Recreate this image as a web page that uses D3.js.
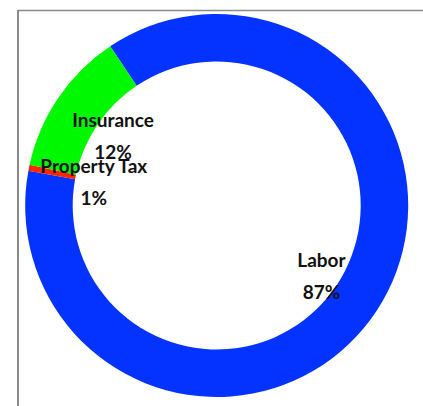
<!DOCTYPE html>
<html><head><meta charset="utf-8">
<script src="https://cdn.jsdelivr.net/npm/d3@7"></script>
<style>html,body{margin:0;padding:0;background:#fff;overflow:hidden}</style>
</head><body>
<svg id="chart" width="423" height="406"></svg>
<script>
const categories = ["Labor", "Property Tax", "Insurance"];
const values = [87.3, 0.5, 12.2];
const percentLabels = ["87%", "1%", "12%"];
const colors = ["#0433ff", "#ff2600", "#00f900"];

const svg = d3.select("#chart");
const W = 423, H = 406;
// frame lines
svg.append("line").attr("x1", 18).attr("x2", W).attr("y1", 10.5).attr("y2", 10.5)
  .attr("stroke", "#8a8a8a").attr("stroke-width", 1.5);
svg.append("line").attr("x1", 18).attr("x2", 18).attr("y1", 10).attr("y2", H)
  .attr("stroke", "#8a8a8a").attr("stroke-width", 2);

const cx = 216.7, cy = 205.5, outerR = 191.5, innerR = 144, labelR = 125.4;
const start = -33.8 * Math.PI / 180;
const pie = d3.pie().sort(null).value(d => d.v).startAngle(start).endAngle(start + 2 * Math.PI);
const data = categories.map((c, i) => ({ c, v: values[i], p: percentLabels[i], col: colors[i] }));
const arcs = pie(data);
const arc = d3.arc().innerRadius(innerR).outerRadius(outerR);
const labelArc = d3.arc().innerRadius(labelR).outerRadius(labelR);
const g = svg.append("g").attr("transform", `translate(${cx},${cy})`);
g.selectAll("path").data(arcs).join("path").attr("d", arc).attr("fill", d => d.data.col);

const font = "Lato, 'Open Sans', sans-serif";
const lab = g.selectAll("g.lab").data(arcs).join("g").attr("class", "lab")
  .attr("transform", d => `translate(${labelArc.centroid(d)})`);
lab.append("text").attr("y", -15).attr("text-anchor", "middle").attr("dominant-baseline", "central")
  .attr("font-family", font).attr("font-weight", "bold").attr("font-size", 19).attr("fill", "#111")
  .text(d => d.data.c);
lab.append("text").attr("y", 17).attr("text-anchor", "middle").attr("dominant-baseline", "central")
  .attr("font-family", font).attr("font-weight", "bold").attr("font-size", 19).attr("fill", "#111")
  .text(d => d.data.p);
</script>
</body></html>
